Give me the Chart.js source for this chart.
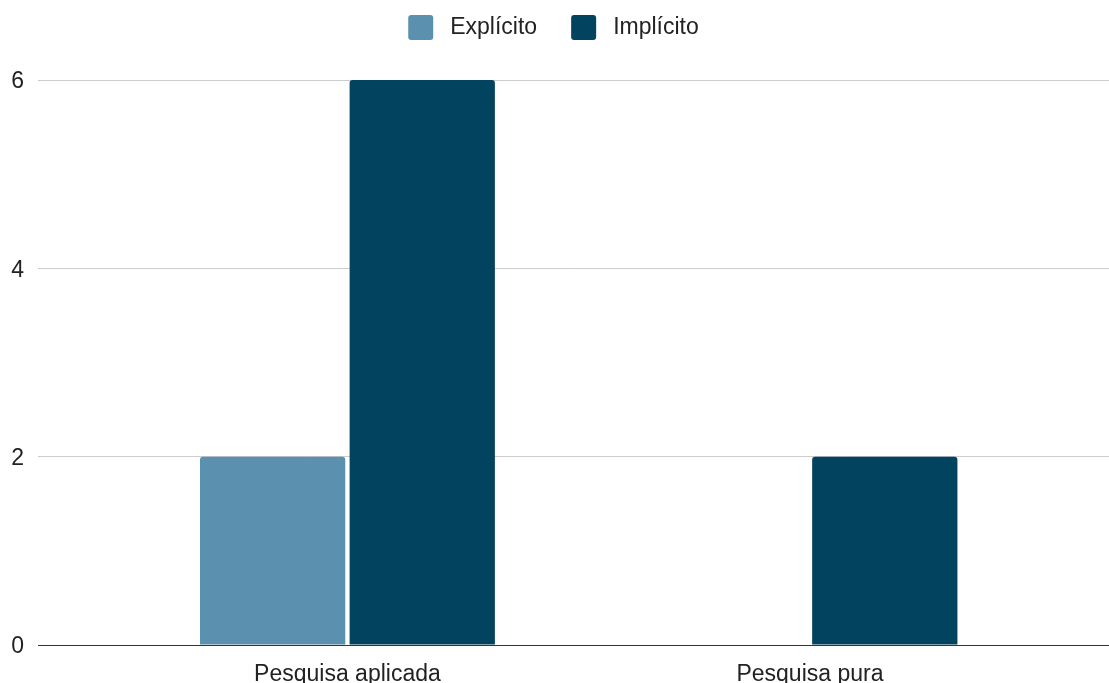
<!DOCTYPE html>
<html>
<head>
<meta charset="utf-8">
<style>
  html, body { margin: 0; padding: 0; background: #fff; }
  #wrap { width: 1109px; height: 683px; }
</style>
<script src="https://cdn.jsdelivr.net/npm/chart.js@4"></script>
</head>
<body>
<div id="wrap"><canvas id="chart" width="1109" height="683"></canvas></div>
<script>
const categories = ['Pesquisa aplicada', 'Pesquisa pura'];
const seriesNames = ['Explícito', 'Implícito'];
const explicitValues = [2, 0];
const implicitValues = [6, 2];
const yTicks = [0, 2, 4, 6];

const COLORS = ['#5b91ae', '#02445f'];
const FONT = "'Liberation Sans', Arial, sans-serif";

// Top-centred legend: rounded swatches followed by the series names.
const topLegend = {
  id: 'topLegend',
  afterDraw(chart) {
    const ctx = chart.ctx;
    const box = 25, gap = 17, itemGap = 34, cy = 27.5;
    ctx.save();
    ctx.font = '23px ' + FONT;
    const items = chart.data.datasets.map(d => ({
      text: d.label, color: d.backgroundColor, w: ctx.measureText(d.label).width
    }));
    const total = items.reduce((s, it) => s + box + gap + it.w, 0) + itemGap * (items.length - 1);
    let x = (chart.width - total) / 2 - 1;
    items.forEach(it => {
      ctx.fillStyle = it.color;
      ctx.beginPath();
      ctx.roundRect(x, cy - box / 2, box, box, 3);
      ctx.fill();
      ctx.fillStyle = '#222';
      ctx.textBaseline = 'middle';
      ctx.textAlign = 'left';
      ctx.fillText(it.text, x + box + gap, cy);
      x += box + gap + it.w + itemGap;
    });
    ctx.restore();
  }
};

const toPoints = vals => vals.map((y, i) => ({ x: i, y }));

new Chart(document.getElementById('chart'), {
  type: 'bar',
  data: {
    datasets: [
      { label: seriesNames[0], data: toPoints(explicitValues), backgroundColor: COLORS[0] },
      { label: seriesNames[1], data: toPoints(implicitValues), backgroundColor: COLORS[1] }
    ]
  },
  options: {
    responsive: false,
    animation: false,
    devicePixelRatio: 1,
    layout: { padding: { top: 80, left: 11, right: 0, bottom: 0 } },
    datasets: {
      bar: {
        categoryPercentage: 0.647,
        barPercentage: 0.971,
        borderWidth: 0,
        borderRadius: { topLeft: 3, topRight: 3, bottomLeft: 0, bottomRight: 0 }
      }
    },
    plugins: {
      legend: { display: false },
      tooltip: { enabled: false }
    },
    scales: {
      x: {
        type: 'linear',
        offset: false,
        min: -0.669,
        max: 1.6465,
        afterBuildTicks: s => { s.ticks = categories.map((_, i) => ({ value: i })); },
        afterFit: s => { s.height = 38; },
        ticks: {
          autoSkip: false,
          maxRotation: 0,
          padding: 18,
          color: '#222',
          font: { family: FONT, size: 23, lineHeight: 1 },
          callback: v => categories[v]
        },
        grid: { display: false, drawTicks: false },
        border: { display: true, color: '#333', width: 1 }
      },
      y: {
        min: 0,
        max: 6,
        afterBuildTicks: s => { s.ticks = yTicks.map(v => ({ value: v })); },
        afterFit: s => { s.width = 27; },
        ticks: {
          padding: 14,
          labelOffset: 2,
          color: '#222',
          font: { family: FONT, size: 23 }
        },
        grid: { color: '#cccccc', lineWidth: 1, drawTicks: false },
        border: { display: false }
      }
    }
  },
  plugins: [topLegend]
});
</script>
</body>
</html>
